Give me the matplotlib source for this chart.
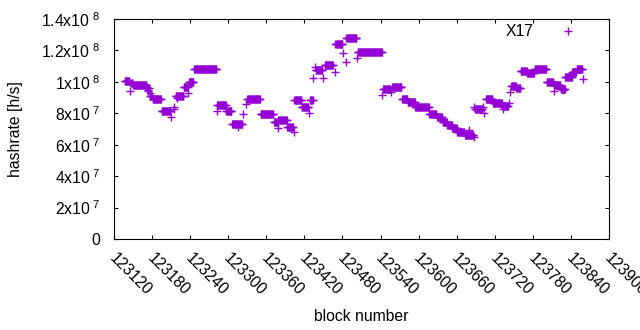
import numpy as np
import matplotlib
matplotlib.use('Agg')
import matplotlib.pyplot as plt
import matplotlib.transforms as mtransforms

plt.rcParams['font.family'] = ['Liberation Sans', 'DejaVu Sans']
plt.rcParams['mathtext.fontset'] = 'custom'
plt.rcParams['mathtext.rm'] = 'Liberation Sans'
plt.rcParams['mathtext.default'] = 'regular'

# plateaus of the X17 hashrate: first block, last block, rate in 1e6 h/s
run_first = [123137, 123147, 123150, 123177, 123181, 123195, 123217, 123230,
             123238, 123246, 123283, 123297, 123306, 123330, 123351, 123372,
             123379, 123393, 123404, 123416, 123429, 123438, 123452, 123469,
             123486, 123504, 123544, 123558, 123574, 123583, 123595, 123617,
             123629, 123638, 123645, 123653, 123661, 123673, 123689, 123706,
             123717, 123732, 123746, 123754, 123761, 123771, 123783, 123802,
             123814, 123824, 123831, 123842, 123849]
run_last = [123144, 123149, 123171, 123180, 123194, 123209, 123229, 123236,
            123245, 123281, 123296, 123305, 123322, 123350, 123371, 123378,
            123392, 123402, 123415, 123426, 123433, 123448, 123465, 123480,
            123502, 123542, 123555, 123573, 123582, 123594, 123616, 123628,
            123637, 123644, 123652, 123660, 123672, 123686, 123700, 123716,
            123731, 123741, 123753, 123760, 123770, 123782, 123801, 123812,
            123823, 123830, 123841, 123848, 123858]
run_rate = [100.5, 99.0, 97.7, 90.8, 88.8, 81.6, 91.3, 97.0,
            99.8, 107.9, 85.0, 81.4, 73.5, 89.4, 79.8, 74.6,
            75.6, 71.3, 88.5, 83.7, 88.5, 107.6, 110.7, 124.4,
            127.6, 119.0, 95.5, 96.7, 89.2, 87.0, 84.1, 79.6,
            77.8, 74.5, 72.5, 70.5, 68.4, 66.5, 82.7, 89.0,
            86.6, 84.6, 97.5, 96.0, 106.6, 105.5, 108.0, 100.2,
            98.0, 95.5, 102.8, 106.0, 108.0]

# single blocks off the plateaus
single_block = [123145, 123172, 123173, 123174, 123175, 123176, 123210, 123214,
                123215, 123219, 123237, 123282, 123315, 123323, 123328, 123378,
                123403, 123427, 123434, 123437, 123449, 123468, 123481, 123485,
                123503, 123543, 123556, 123679, 123687, 123688, 123701, 123703,
                123733, 123742, 123744, 123813, 123827, 123859]
single_rate = [94.4, 96.5, 95.0, 94.0, 96.0, 93.0, 77.6, 84.0,
               82.8, 89.7, 92.9, 81.5, 71.3, 79.5, 86.0, 70.6,
               68.1, 80.0, 102.5, 109.5, 102.5, 106.5, 118.4, 112.6,
               115.2, 91.6, 93.5, 69.4, 64.9, 84.0, 84.0, 80.2,
               83.0, 86.5, 93.5, 94.2, 94.8, 101.8]

yticks = [0, 2e7, 4e7, 6e7, 8e7, 1e8, 1.2e8, 1.4e8]
ytick_labels = ['0', r'2x10$^{\ 7}$', r'4x10$^{\ 7}$', r'6x10$^{\ 7}$',
                r'8x10$^{\ 7}$', r'1x10$^{\ 8}$', r'1.2x10$^{\ 8}$', r'1.4x10$^{\ 8}$']
xticks = list(range(123120, 123901, 60))

blocks = np.concatenate([np.arange(a, b + 1) for a, b in zip(run_first, run_last)]
                        + [np.array(single_block)])
rates = np.concatenate([np.full(b - a + 1, r) for a, b, r in zip(run_first, run_last, run_rate)]
                       + [np.array(single_rate)]) * 1e6

fig = plt.figure(figsize=(6.4, 3.3), dpi=100)
ax = fig.add_axes([114 / 640, 1 - 239 / 330, 495 / 640, 220 / 330])

ax.plot(blocks, rates, linestyle='none', marker='+', color='#9400d3',
        ms=5.6, mew=1.0, label='X17')

ax.set_xlim(123120, 123900)
ax.set_ylim(0, 1.4e8)
ax.set_xticks(xticks)
ax.set_xticklabels([str(t) for t in xticks])
ax.set_yticks(yticks)
ax.set_yticklabels(ytick_labels)

ax.tick_params(direction='in', top=True, right=True, length=3, width=0.8,
               labelsize=11.3, colors='black')
ax.tick_params(axis='y', pad=10)
ax.tick_params(axis='x', pad=8)
for s in ax.spines.values():
    s.set_linewidth(0.8)

shift = mtransforms.ScaledTranslation(3 / 100, 0, fig.dpi_scale_trans)
for lab in ax.get_xticklabels():
    lab.set_rotation(-45)
    lab.set_ha('left')
    lab.set_va('top')
    lab.set_rotation_mode('anchor')
    lab.set_transform(lab.get_transform() + shift)

ax.set_ylabel('hashrate [h/s]', fontsize=11.3)
ax.yaxis.set_label_coords(-0.184, 0.5)
ax.set_xlabel('block number', fontsize=11.3)
ax.xaxis.set_label_coords(0.5, -0.32)

ax.legend(loc='center right', bbox_to_anchor=(0.949, 0.941), frameon=False,
          markerfirst=False, borderpad=0, borderaxespad=0, handlelength=2,
          handletextpad=1.23, numpoints=1, fontsize=11.3)

fig.savefig('out.png', dpi=100)
